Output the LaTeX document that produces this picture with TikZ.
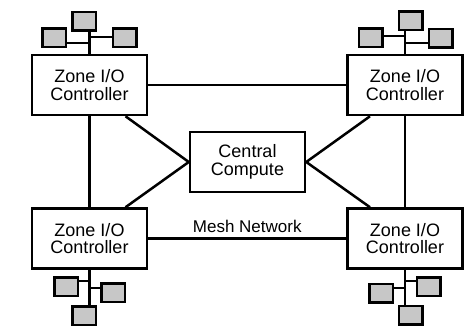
\documentclass[tikz,border=0pt]{standalone}
\usepackage{fontspec}
\setmainfont{Liberation Sans}
\usetikzlibrary{positioning,calc}
\tikzset{zone/.style={draw,line width=2.5pt,minimum width=115pt,minimum height=60pt,
    inner sep=0pt,align=center,font=\fontsize{18}{17.5}\selectfont},
  dev/.style={draw,line width=2.5pt,fill=black!22,minimum width=23.5pt,minimum height=18.5pt,inner sep=0pt},
  link/.style={line width=2.5pt}
}

\begin{document}
\begin{tikzpicture}[x=1pt,y=-1pt]
	\useasboundingbox (0,0) rectangle (469,325);
	\clip (0,0) rectangle (469,325);
	\node[zone] (Z1) at (89.5,85) {Zone I/O\\Controller};
	\node[zone] (Z2) at (405,85) {Zone I/O\\Controller};
	\node[zone] (Z3) at (89.5,238.5) {Zone I/O\\Controller};
	\node[zone] (Z4) at (405,238.5) {Zone I/O\\Controller};
	\node[zone] (CC) at (247.5,162) {Central\\Compute};
	\node[dev] (D1a) at (54,37.5) {};
	\node[dev] (D1b) at (84,21) {};
	\node[dev] (D1c) at (124.5,37.5) {};
	\node[dev] (D2a) at (370.5,37.5) {};
	\node[dev] (D2b) at (410.5,20.5) {};
	\node[dev] (D2c) at (440.5,38) {};
	\node[dev] (D3a) at (66,286.5) {};
	\node[dev] (D3b) at (113,292.5) {};
	\node[dev] (D3c) at (84,315.5) {};
	\node[dev] (D4a) at (381,293) {};
	\node[dev] (D4b) at (428.5,286.5) {};
	\node[dev] (D4c) at (410.5,315) {};
	\draw[link] (Z1) -- (Z2);
	\draw[link] (Z3) -- node[above=1pt,font=\fontsize{17}{17}\selectfont]{Mesh Network} (Z4);
	\draw[link] (Z1) -- (Z3);
	\draw[link] (Z2) -- (Z4);
	\draw[link] ($(Z1.south)+(36,0)$) -- (CC.west);
	\draw[link] ($(Z3.north)+(36,0)$) -- (CC.west);
	\draw[link] ($(Z2.south)+(-35,0)$) -- (CC.east);
	\draw[link] ($(Z4.north)+(-35,0)$) -- (CC.east);
	\draw[link] (Z1.north) -- (Z1.north |- D1b.south);
	\draw[link] (D1a.east |- 0,43) -- (Z1.north |- 0,43);
	\draw[link] (D1c.west |- 0,37) -- (Z1.north |- 0,37);
	\draw[link] (Z2.north) -- (Z2.north |- D2b.south);
	\draw[link] (D2a.east |- 0,36) -- (Z2.north |- 0,36);
	\draw[link] (D2c.west |- 0,43) -- (Z2.north |- 0,43);
	\draw[link] (Z3.south) -- (Z3.south |- D3c.north);
	\draw[link] (D3a.east |- 0,281) -- (Z3.south |- 0,281);
	\draw[link] (D3b.west |- 0,288) -- (Z3.south |- 0,288);
	\draw[link] (Z4.south) -- (Z4.south |- D4c.north);
	\draw[link] (D4a.east |- 0,288) -- (Z4.south |- 0,288);
	\draw[link] (D4b.west |- 0,281) -- (Z4.south |- 0,281);
\end{tikzpicture}
\end{document}
